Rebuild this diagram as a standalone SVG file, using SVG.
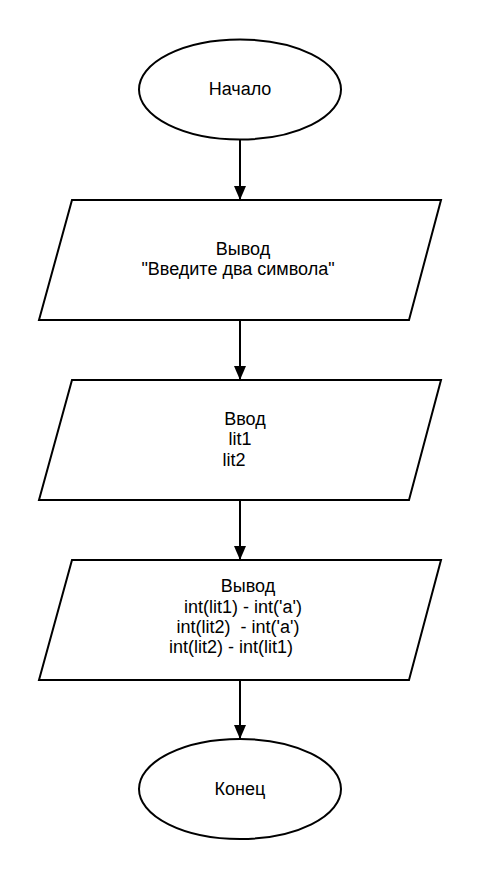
<svg xmlns="http://www.w3.org/2000/svg" width="480" height="880" viewBox="0 0 480 880">
<style>
.s{fill:#fff;stroke:#000;stroke-width:2}
.t{font-family:"Liberation Sans",Arial,sans-serif;font-size:18px;fill:#000;text-anchor:middle}
.c{stroke:#000;stroke-width:2;fill:none}
</style>
<defs>
<marker id="a" markerUnits="userSpaceOnUse" markerWidth="14" markerHeight="18" refX="13" refY="6" orient="auto">
<path d="M0,0 L14,6 L0,12 Z" fill="#000"/>
</marker>
</defs>
<rect width="480" height="880" fill="#fff"/>
<g id="connectors">
<path class="c" d="M240,140 V199" marker-end="url(#a)"/>
<path class="c" d="M240,320 V379" marker-end="url(#a)"/>
<path class="c" d="M240,500 V559" marker-end="url(#a)"/>
<path class="c" d="M240,680 V738" marker-end="url(#a)"/>
</g>
<g id="start">
<ellipse class="s" cx="240" cy="89.5" rx="101" ry="50"/>
<text class="t" x="240" y="95">Начало</text>
</g>
<g id="output1">
<polygon class="s" points="72,200 441,200 409,320 39,320"/>
<text class="t" x="243" y="255">Вывод</text>
<text class="t" x="238" y="275">"Введите два символа"</text>
</g>
<g id="input">
<polygon class="s" points="72,380 441,380 409,500 39,500"/>
<text class="t" x="245" y="425">Ввод</text>
<text class="t" x="240" y="445">lit1</text>
<text class="t" x="234" y="466">lit2</text>
</g>
<g id="output2">
<polygon class="s" points="72,560 441,560 409,680 39,680"/>
<text class="t" x="248" y="592">Вывод</text>
<text class="t" x="243" y="613">int(lit1) - int('a')</text>
<text class="t" x="238" y="633" xml:space="preserve">int(lit2)  - int('a')</text>
<text class="t" x="231" y="653">int(lit2) - int(lit1)</text>
</g>
<g id="end">
<ellipse class="s" cx="240" cy="789" rx="101" ry="50"/>
<text class="t" x="240" y="795">Конец</text>
</g>
</svg>
